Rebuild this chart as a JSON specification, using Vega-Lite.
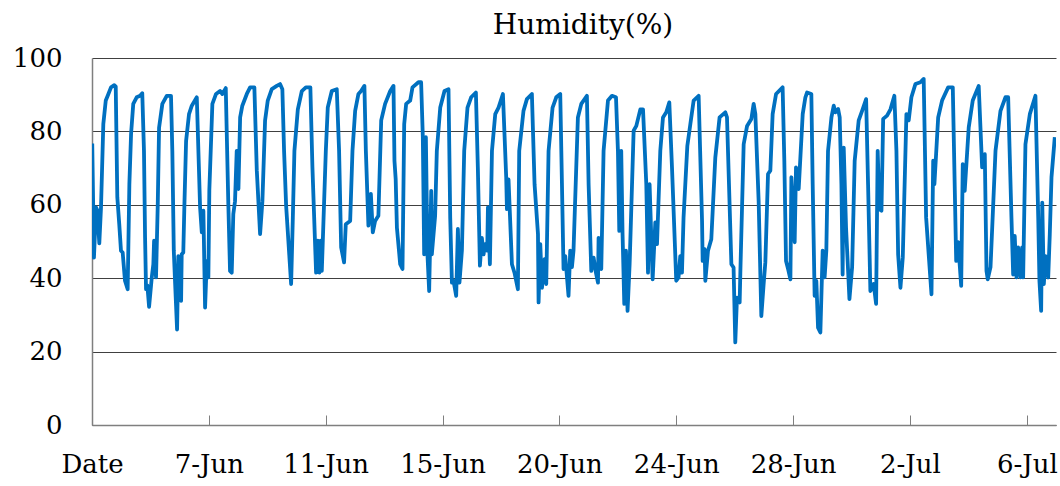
{
  "$schema": "https://vega.github.io/schema/vega-lite/v6.json",
  "autosize": {"type": "none"},
  "padding": {"left": 92, "top": 58, "right": 4, "bottom": 61},
  "width": 964,
  "height": 367,
  "background": "white",
  "title": {
    "text": "Humidity(%)",
    "font": "DejaVu Serif",
    "fontSize": 28,
    "fontWeight": "normal",
    "color": "black",
    "anchor": "middle",
    "frame": "group",
    "baseline": "bottom",
    "offset": 0,
    "dy": 23,
    "dx": 9
  },
  "config": {
    "view": {"stroke": null},
    "axis": {"labelFont": "DejaVu Serif", "labelFontSize": 26, "labelColor": "black"}
  },
  "data": {
    "values": [
      {"i": 0.2, "h": 76.7}, {"i": 1.6, "h": 45.6}, {"i": 3.3, "h": 59.3}, {"i": 4.4, "h": 58.5}, {"i": 6.0, "h": 49.5},
      {"i": 7.4, "h": 59.3}, {"i": 9.3, "h": 82}, {"i": 11.3, "h": 88.4}, {"i": 12.9, "h": 89.7}, {"i": 15.6, "h": 92},
      {"i": 18.3, "h": 92.6}, {"i": 19.5, "h": 92.2}, {"i": 20.8, "h": 62}, {"i": 22.4, "h": 54.7}, {"i": 23.8, "h": 47.5},
      {"i": 25.2, "h": 47}, {"i": 27.1, "h": 39.3}, {"i": 29.3, "h": 37}, {"i": 30.7, "h": 65.6}, {"i": 32.1, "h": 79.3},
      {"i": 33.9, "h": 87.5}, {"i": 36.7, "h": 89.3}, {"i": 39.5, "h": 89.7}, {"i": 41.3, "h": 90.4}, {"i": 42.7, "h": 74.7},
      {"i": 43.6, "h": 51}, {"i": 44.4, "h": 37}, {"i": 45.5, "h": 38}, {"i": 46.9, "h": 32.2}, {"i": 49.1, "h": 40.2},
      {"i": 50.4, "h": 43.8}, {"i": 51.0, "h": 50.2}, {"i": 52.6, "h": 40.2}, {"i": 54.0, "h": 59.7}, {"i": 55.1, "h": 81},
      {"i": 57.8, "h": 87.5}, {"i": 61.4, "h": 89.7}, {"i": 64.9, "h": 89.7}, {"i": 66.0, "h": 74.7}, {"i": 67.2, "h": 47.5},
      {"i": 68.2, "h": 39.3}, {"i": 69.9, "h": 26}, {"i": 70.9, "h": 46}, {"i": 73.2, "h": 33.8}, {"i": 73.7, "h": 46.5},
      {"i": 75.0, "h": 47}, {"i": 75.9, "h": 59.7}, {"i": 77.3, "h": 77.4}, {"i": 79.7, "h": 84.7}, {"i": 82.0, "h": 87},
      {"i": 86.1, "h": 89.3}, {"i": 88.8, "h": 59.3}, {"i": 90.2, "h": 52.5}, {"i": 91.5, "h": 58.4}, {"i": 92.9, "h": 32},
      {"i": 94.3, "h": 44.7}, {"i": 95.6, "h": 40.2}, {"i": 96.4, "h": 64}, {"i": 98.9, "h": 87.5}, {"i": 101.9, "h": 90.2},
      {"i": 105.2, "h": 91}, {"i": 107.1, "h": 90.2}, {"i": 109.9, "h": 91.8}, {"i": 112.0, "h": 60.2}, {"i": 113.4, "h": 42},
      {"i": 114.8, "h": 41.5}, {"i": 116.1, "h": 57.5}, {"i": 117.5, "h": 61}, {"i": 118.9, "h": 74.7}, {"i": 120.3, "h": 64.3},
      {"i": 121.7, "h": 83.8}, {"i": 123.5, "h": 87}, {"i": 127.2, "h": 90.2}, {"i": 129.9, "h": 92}, {"i": 133.4, "h": 92},
      {"i": 135.4, "h": 69.3}, {"i": 138.1, "h": 52}, {"i": 140.0, "h": 61}, {"i": 142.2, "h": 83}, {"i": 144.4, "h": 88.4},
      {"i": 147.7, "h": 91.5}, {"i": 151.8, "h": 92.4}, {"i": 154.5, "h": 92.9}, {"i": 156.4, "h": 91.5}, {"i": 157.8, "h": 74.7},
      {"i": 159.5, "h": 59.7}, {"i": 163.6, "h": 38.4}, {"i": 165.0, "h": 56.5}, {"i": 166.3, "h": 74.7}, {"i": 169.1, "h": 86},
      {"i": 172.4, "h": 91}, {"i": 175.7, "h": 92}, {"i": 179.4, "h": 92}, {"i": 181.1, "h": 70.2}, {"i": 184.1, "h": 41.5},
      {"i": 185.5, "h": 50.2}, {"i": 186.8, "h": 41.5}, {"i": 188.0, "h": 50.2}, {"i": 188.8, "h": 42}, {"i": 192.1, "h": 74.7},
      {"i": 193.7, "h": 86.5}, {"i": 197.0, "h": 91}, {"i": 201.1, "h": 91.5}, {"i": 203.0, "h": 74.7}, {"i": 204.7, "h": 48.4},
      {"i": 207.1, "h": 44.3}, {"i": 208.5, "h": 54.7}, {"i": 212.1, "h": 55.6}, {"i": 214.0, "h": 74.7}, {"i": 216.2, "h": 85.6},
      {"i": 218.9, "h": 90.2}, {"i": 221.1, "h": 91}, {"i": 223.8, "h": 92.4}, {"i": 225.0, "h": 74.7}, {"i": 227.1, "h": 54.3},
      {"i": 229.1, "h": 63}, {"i": 230.7, "h": 52.5}, {"i": 232.6, "h": 55.6}, {"i": 235.3, "h": 57}, {"i": 237.6, "h": 83},
      {"i": 240.8, "h": 87.5}, {"i": 245.0, "h": 91}, {"i": 247.7, "h": 92.4}, {"i": 248.5, "h": 72}, {"i": 249.5, "h": 67},
      {"i": 250.5, "h": 53.8}, {"i": 253.2, "h": 43.8}, {"i": 255.1, "h": 42.5}, {"i": 256.5, "h": 82}, {"i": 258.1, "h": 87.5},
      {"i": 261.4, "h": 88.4}, {"i": 263.3, "h": 92}, {"i": 268.2, "h": 93.4}, {"i": 270.4, "h": 93.4}, {"i": 271.8, "h": 78.4},
      {"i": 272.9, "h": 46.5}, {"i": 274.3, "h": 78.4}, {"i": 275.6, "h": 46.5}, {"i": 277.0, "h": 36.5}, {"i": 278.7, "h": 63.8},
      {"i": 279.2, "h": 46.5}, {"i": 281.9, "h": 57}, {"i": 283.3, "h": 74.7}, {"i": 286.1, "h": 86.5}, {"i": 289.6, "h": 91},
      {"i": 292.9, "h": 91.5}, {"i": 294.3, "h": 56.5}, {"i": 295.7, "h": 38.8}, {"i": 297.0, "h": 39.3}, {"i": 299.2, "h": 35.2},
      {"i": 300.6, "h": 53.4}, {"i": 301.9, "h": 38.8}, {"i": 303.9, "h": 47.5}, {"i": 305.8, "h": 74.7}, {"i": 308.5, "h": 86.5},
      {"i": 311.5, "h": 89.3}, {"i": 315.4, "h": 90.6}, {"i": 317.0, "h": 70.2}, {"i": 318.7, "h": 43.4}, {"i": 320.3, "h": 51},
      {"i": 321.7, "h": 46.5}, {"i": 323.0, "h": 49.3}, {"i": 324.7, "h": 47.5}, {"i": 325.3, "h": 59.3}, {"i": 326.9, "h": 43.8},
      {"i": 328.6, "h": 74.7}, {"i": 331.3, "h": 84.7}, {"i": 334.0, "h": 86.5}, {"i": 337.6, "h": 90.2}, {"i": 340.3, "h": 67.5},
      {"i": 340.9, "h": 58.8}, {"i": 342.2, "h": 66.9}, {"i": 345.0, "h": 43.8}, {"i": 347.1, "h": 41.5}, {"i": 349.9, "h": 37},
      {"i": 351.0, "h": 74.7}, {"i": 354.5, "h": 85.6}, {"i": 357.3, "h": 88.8}, {"i": 361.4, "h": 90.2}, {"i": 363.6, "h": 65.6},
      {"i": 366.4, "h": 52}, {"i": 366.9, "h": 33.4}, {"i": 368.3, "h": 49.3}, {"i": 369.7, "h": 37.4}, {"i": 371.8, "h": 45.2},
      {"i": 373.2, "h": 38.4}, {"i": 375.1, "h": 74.7}, {"i": 378.4, "h": 86.5}, {"i": 381.4, "h": 89.3}, {"i": 384.7, "h": 90.2},
      {"i": 386.1, "h": 65.6}, {"i": 387.4, "h": 42.5}, {"i": 388.8, "h": 46}, {"i": 391.5, "h": 35.2}, {"i": 392.9, "h": 47.5},
      {"i": 394.3, "h": 43}, {"i": 395.6, "h": 47.5}, {"i": 399.2, "h": 83.8}, {"i": 402.0, "h": 87.5}, {"i": 406.6, "h": 89.7},
      {"i": 408.0, "h": 65.6}, {"i": 410.2, "h": 42}, {"i": 412.1, "h": 45.6}, {"i": 414.0, "h": 41.5}, {"i": 415.7, "h": 38.8},
      {"i": 416.2, "h": 51}, {"i": 418.4, "h": 42.5}, {"i": 420.3, "h": 74.7}, {"i": 423.9, "h": 88.4}, {"i": 427.2, "h": 89.7},
      {"i": 430.5, "h": 89.3}, {"i": 432.1, "h": 74.7}, {"i": 433.2, "h": 52.9}, {"i": 434.8, "h": 74.7}, {"i": 435.9, "h": 52},
      {"i": 437.3, "h": 33}, {"i": 438.7, "h": 47.5}, {"i": 440.0, "h": 31.1}, {"i": 441.7, "h": 43.8}, {"i": 445.0, "h": 80.2},
      {"i": 447.2, "h": 81.5}, {"i": 450.5, "h": 86}, {"i": 452.7, "h": 86}, {"i": 455.4, "h": 65.6}, {"i": 456.8, "h": 41.5},
      {"i": 458.1, "h": 65.6}, {"i": 460.6, "h": 39.7}, {"i": 462.8, "h": 55.2}, {"i": 464.2, "h": 49.3}, {"i": 466.9, "h": 74.7},
      {"i": 469.1, "h": 83.8}, {"i": 471.8, "h": 85.2}, {"i": 474.3, "h": 87.9}, {"i": 476.5, "h": 70.2}, {"i": 480.0, "h": 39.3},
      {"i": 481.9, "h": 40.2}, {"i": 483.3, "h": 46}, {"i": 484.7, "h": 41.5}, {"i": 486.0, "h": 56.5}, {"i": 489.1, "h": 76},
      {"i": 491.6, "h": 82}, {"i": 494.3, "h": 88.4}, {"i": 498.4, "h": 89.7}, {"i": 501.2, "h": 55.6}, {"i": 501.7, "h": 44.7},
      {"i": 503.3, "h": 47.9}, {"i": 503.9, "h": 39.3}, {"i": 506.1, "h": 47.5}, {"i": 508.8, "h": 50.6}, {"i": 512.1, "h": 72.9},
      {"i": 515.6, "h": 83.8}, {"i": 520.3, "h": 85.2}, {"i": 521.7, "h": 83.8}, {"i": 525.3, "h": 43.8}, {"i": 527.1, "h": 42.9},
      {"i": 528.5, "h": 22.5}, {"i": 529.9, "h": 34.7}, {"i": 532.1, "h": 33.4}, {"i": 532.7, "h": 42}, {"i": 535.4, "h": 76.5},
      {"i": 538.2, "h": 81.5}, {"i": 541.7, "h": 83.4}, {"i": 543.6, "h": 87.5}, {"i": 545.0, "h": 84.7}, {"i": 547.7, "h": 61},
      {"i": 549.9, "h": 29.7}, {"i": 551.8, "h": 38.4}, {"i": 553.2, "h": 44.3}, {"i": 555.4, "h": 68.4}, {"i": 557.3, "h": 69.3},
      {"i": 559.2, "h": 84.7}, {"i": 562.0, "h": 90.2}, {"i": 567.4, "h": 92}, {"i": 568.8, "h": 72}, {"i": 570.2, "h": 44.7},
      {"i": 571.9, "h": 42.5}, {"i": 573.8, "h": 39.7}, {"i": 574.6, "h": 67.5}, {"i": 577.3, "h": 49.8}, {"i": 578.4, "h": 70.2},
      {"i": 580.6, "h": 64.3}, {"i": 583.9, "h": 84.7}, {"i": 586.1, "h": 89.3}, {"i": 587.5, "h": 90.6}, {"i": 591.0, "h": 90.2},
      {"i": 592.1, "h": 65.6}, {"i": 593.7, "h": 35.2}, {"i": 595.1, "h": 39.3}, {"i": 596.5, "h": 26.5}, {"i": 598.4, "h": 25.2},
      {"i": 600.3, "h": 47.5}, {"i": 601.9, "h": 40.2}, {"i": 603.3, "h": 47.5}, {"i": 604.7, "h": 74.7}, {"i": 607.5, "h": 83.8},
      {"i": 609.4, "h": 87}, {"i": 610.7, "h": 85.2}, {"i": 613.0, "h": 86.1}, {"i": 614.3, "h": 83.8}, {"i": 615.7, "h": 65.6},
      {"i": 616.7, "h": 41}, {"i": 617.6, "h": 75.6}, {"i": 619.5, "h": 53.8}, {"i": 622.3, "h": 34.3}, {"i": 624.5, "h": 43},
      {"i": 626.6, "h": 72}, {"i": 629.9, "h": 83}, {"i": 632.7, "h": 85.6}, {"i": 636.0, "h": 88.8}, {"i": 637.6, "h": 65.6},
      {"i": 639.5, "h": 36.5}, {"i": 642.2, "h": 38.4}, {"i": 644.2, "h": 33}, {"i": 645.5, "h": 74.7}, {"i": 646.9, "h": 58.8},
      {"i": 648.6, "h": 58.4}, {"i": 650.0, "h": 83.4}, {"i": 653.2, "h": 84.3}, {"i": 656.0, "h": 86}, {"i": 659.2, "h": 89.7},
      {"i": 660.9, "h": 74.7}, {"i": 662.3, "h": 46.5}, {"i": 664.2, "h": 37.4}, {"i": 666.1, "h": 45.6}, {"i": 669.1, "h": 84.7},
      {"i": 671.0, "h": 83}, {"i": 673.2, "h": 89.3}, {"i": 676.5, "h": 92.9}, {"i": 680.6, "h": 93.4}, {"i": 683.3, "h": 94.3},
      {"i": 685.3, "h": 56.5}, {"i": 689.7, "h": 35.6}, {"i": 691.1, "h": 72}, {"i": 692.1, "h": 65.6}, {"i": 695.2, "h": 83.8},
      {"i": 698.4, "h": 88.4}, {"i": 703.4, "h": 92}, {"i": 707.2, "h": 92}, {"i": 710.0, "h": 44.7}, {"i": 711.6, "h": 49.8},
      {"i": 714.1, "h": 37.9}, {"i": 715.4, "h": 71.1}, {"i": 717.0, "h": 63.8}, {"i": 720.3, "h": 81.1}, {"i": 723.6, "h": 88.4},
      {"i": 728.5, "h": 92.4}, {"i": 731.3, "h": 70.2}, {"i": 733.5, "h": 73.8}, {"i": 734.9, "h": 42}, {"i": 735.9, "h": 39.7},
      {"i": 738.2, "h": 43}, {"i": 742.3, "h": 74.7}, {"i": 746.4, "h": 85.6}, {"i": 750.5, "h": 89.3}, {"i": 752.7, "h": 89.3},
      {"i": 755.4, "h": 56.5}, {"i": 756.8, "h": 41}, {"i": 758.1, "h": 51.5}, {"i": 759.5, "h": 40.2}, {"i": 760.9, "h": 48.4},
      {"i": 762.8, "h": 40.2}, {"i": 764.2, "h": 48.4}, {"i": 765.0, "h": 40.2}, {"i": 766.9, "h": 76.5}, {"i": 770.5, "h": 84.7},
      {"i": 775.1, "h": 89.7}, {"i": 777.4, "h": 56.5}, {"i": 778.4, "h": 39.3}, {"i": 779.8, "h": 31.1}, {"i": 780.7, "h": 60.6},
      {"i": 782.0, "h": 38.4}, {"i": 783.4, "h": 46}, {"i": 785.6, "h": 40.2}, {"i": 786.9, "h": 52}, {"i": 788.3, "h": 67.5},
      {"i": 791.0, "h": 78.4}
    ]
  },
  "mark": {"type": "line", "color": "#0070C0", "strokeWidth": 3.8, "strokeJoin": "round", "clip": true},
  "encoding": {
    "x": {
      "field": "i",
      "type": "quantitative",
      "scale": {"domain": [0, 792], "nice": false, "zero": false},
      "axis": {
        "title": null,
        "values": [0, 96, 192, 288, 384, 480, 576, 672, 768],
        "labelExpr": "['Date','7-Jun','11-Jun','15-Jun','20-Jun','24-Jun','28-Jun','2-Jul','6-Jul'][round(datum.value / 96)]",
        "grid": false,
        "ticks": true,
        "tickSize": -10,
        "tickColor": "#7f7f7f",
        "tickWidth": 1,
        "domainColor": "#7f7f7f",
        "domainWidth": 1.5,
        "labelPadding": 36,
        "labelFlush": false,
        "labelOverlap": false,
        "labelAngle": 0
      }
    },
    "y": {
      "field": "h",
      "type": "quantitative",
      "scale": {"domain": [0, 100], "nice": false},
      "axis": {
        "title": null,
        "values": [0, 20, 40, 60, 80, 100],
        "grid": true,
        "gridColor": "#404040",
        "gridWidth": 1,
        "ticks": false,
        "domainColor": "#7f7f7f",
        "domainWidth": 1.5,
        "labelPadding": 30,
        "labelBaseline": "middle"
      }
    }
  }
}
